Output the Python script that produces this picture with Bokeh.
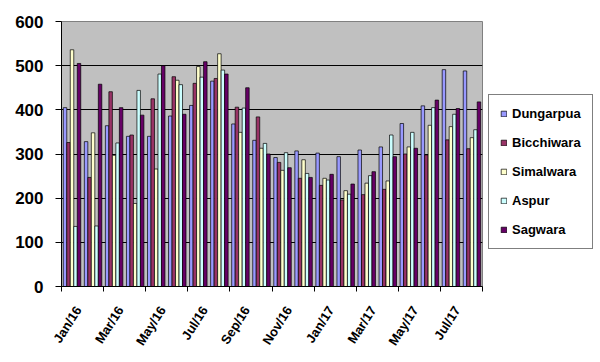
from bokeh.plotting import figure
from bokeh.models import ColumnDataSource, LinearAxis, FixedTicker, Legend, LegendItem, Range1d
from bokeh.transform import dodge
from bokeh.embed import file_html
from bokeh.resources import INLINE

months = ["Jan/16", "Feb/16", "Mar/16", "Apr/16", "May/16", "Jun/16", "Jul/16", "Aug/16",
          "Sep/16", "Oct/16", "Nov/16", "Dec/16", "Jan/17", "Feb/17", "Mar/17", "Apr/17",
          "May/17", "Jun/17", "Jul/17", "Aug/17"]

dungarpua = [405, 328, 364, 340, 340, 386, 410, 465, 368, 331, 292, 307, 302, 294, 309, 316, 369, 409, 491, 488]
bicchiwara = [326, 247, 441, 343, 425, 475, 460, 471, 406, 384, 281, 245, 229, 196, 208, 220, 300, 298, 332, 312]
simalwara = [536, 348, 297, 188, 266, 467, 498, 527, 349, 313, 263, 287, 245, 217, 234, 239, 316, 365, 362, 337]
aspur = [136, 137, 325, 444, 481, 457, 474, 490, 404, 324, 303, 256, 241, 209, 251, 343, 349, 405, 390, 355]
sagwara = [505, 458, 405, 388, 500, 390, 509, 481, 450, 300, 269, 247, 254, 232, 260, 294, 313, 422, 403, 418]

series_names = ["Dungarpua", "Bicchiwara", "Simalwara", "Aspur", "Sagwara"]
series_values = [dungarpua, bicchiwara, simalwara, aspur, sagwara]
colors = ["#9999FF", "#993366", "#FFFFCC", "#CCFFFF", "#660066"]
y_ticks = [0, 100, 200, 300, 400, 500, 600]

data = {"idx": list(range(len(months)))}
for n, v in zip(series_names, series_values):
    data[n] = v
src = ColumnDataSource(data)

FONT = "Liberation Sans"

p = figure(width=596, height=358, frame_width=421, frame_height=265,
           min_border_left=61, min_border_top=21, min_border_right=114, min_border_bottom=72,
           x_range=Range1d(-0.5, len(months) - 0.5), y_range=Range1d(0, 600),
           x_axis_type=None, output_backend="svg", toolbar_location=None,
           background_fill_color="#C0C0C0", border_fill_color="white")
p.outline_line_color = "#808080"

bw = 0.166
items = []
for k, (n, c) in enumerate(zip(series_names, colors)):
    r = p.vbar(x=dodge("idx", (k - 2) * bw, range=p.x_range), top=n, bottom=0, width=bw,
               source=src, fill_color=c, line_color="black", line_width=0.7)
    items.append(LegendItem(label=n, renderers=[r]))

# y axis
p.yaxis.ticker = FixedTicker(ticks=y_ticks)
p.yaxis.axis_line_color = "black"
p.yaxis.major_tick_line_color = "black"
p.yaxis.major_tick_in = 0
p.yaxis.major_tick_out = 6
p.yaxis.minor_tick_line_color = None
p.yaxis.major_label_text_font = FONT
p.yaxis.major_label_text_font_size = "17px"
p.yaxis.major_label_text_font_style = "bold"
p.yaxis.major_label_text_color = "black"
p.yaxis.major_label_standoff = 12
p.ygrid.grid_line_color = "black"
p.ygrid.grid_line_width = 1

# x axis: labels every second month, tick marks at category boundaries (minor ticks)
label_pos = [i + 0.3 for i in range(0, len(months), 2)]
boundaries = [-0.5 + 2 * j for j in range(len(months) // 2 + 1)]
xa = LinearAxis(ticker=FixedTicker(ticks=label_pos, minor_ticks=boundaries),
                major_label_overrides={pos: months[i] for pos, i in zip(label_pos, range(0, len(months), 2))},
                major_label_orientation=1.0,
                axis_line_color="black", major_tick_line_color=None,
                minor_tick_line_color="black", minor_tick_in=0, minor_tick_out=5,
                major_label_text_font=FONT, major_label_text_font_size="13px",
                major_label_text_font_style="bold", major_label_text_color="black",
                major_label_standoff=15)
p.add_layout(xa, "below")

legend = Legend(items=items, location=(6, 37), orientation="vertical",
                label_text_font=FONT, label_text_font_size="13px", label_text_font_style="bold",
                label_text_color="black",
                glyph_width=7, glyph_height=7, label_height=15, spacing=14, padding=11,
                label_standoff=5, border_line_color="black", border_line_width=1,
                background_fill_color="white", background_fill_alpha=1.0, margin=0)
p.add_layout(legend, "right")

open("out.html", "w").write(file_html(p, INLINE))
